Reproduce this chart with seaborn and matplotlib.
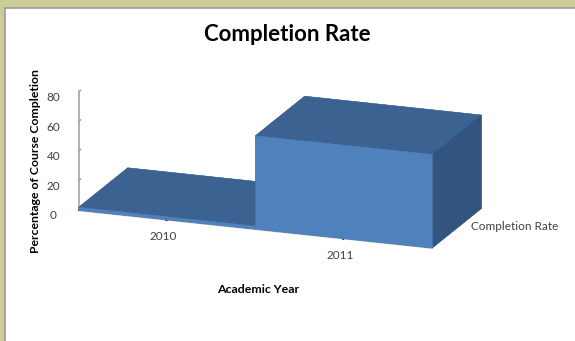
import numpy as np
import matplotlib
matplotlib.use("Agg")
import matplotlib.pyplot as plt
import seaborn as sns
from matplotlib.patches import Rectangle

# data
years = ["2010", "2011"]
completion = [2, 63]
series_name = "Completion Rate"
z_ticks = [0, 20, 40, 60, 80]

sns.set_theme(style="white")
plt.rcParams['font.family'] = ['Lato', 'DejaVu Sans']

face_front = "#4F81BD"
face_top = "#3C6291"
face_side = "#32547E"
text_col = "#404040"
axis_col = "#A8A8A8"

fig = plt.figure(figsize=(5.75, 3.41), dpi=100)
fig.patch.set_facecolor("#CCCC99")
fig.patches.append(Rectangle((0.008, -0.02), 1.0, 0.998, transform=fig.transFigure,
                             facecolor="white", edgecolor="#999999", lw=1.2, zorder=-5))

ax = fig.add_axes([-0.02, 0.108, 1.0, 0.88], projection="3d")
ax.set_facecolor("none")

n = len(years)
x = np.arange(n)
# bar3d face order: -z, +z, -y, +y, -x, +x
colors = []
for _ in range(n):
    colors += [face_front, face_top, face_front, face_front, face_side, face_side]
bars = ax.bar3d(x, np.zeros(n), np.zeros(n), 1, 1, completion, color=colors, shade=False,
                edgecolor=colors, linewidth=0.3)
bars.set_clip_on(False)

ax.set_xlim(0, n)
ax.set_ylim(0, 1)
ax.set_zlim(0, 80)
ax.set_proj_type('ortho')
ax.view_init(elev=17, azim=-70)
ax.set_box_aspect((3.4, 1.3, 1.12), zoom=1.364)

ax.set_xticks(x + 0.5)
ax.set_xticklabels(years, fontsize=8.5, color=text_col)
ax.set_yticks([])
ax.set_zticks(z_ticks)
ax.set_zticklabels([str(v) for v in z_ticks], fontsize=8.5, color=text_col)
ax.zaxis.set_ticks_position('lower')
ax.tick_params(axis='z', pad=-1)
ax.tick_params(axis='x', pad=0)
ax.zaxis._axinfo['tick']['inward_factor'] = 0.0
ax.zaxis._axinfo['tick']['outward_factor'] = 0.5
for tk in ax.zaxis.get_major_ticks():
    tk.tick1line.set_color(axis_col)
for tk in ax.xaxis.get_major_ticks():
    tk.tick1line.set_visible(False)
ax.grid(False)
for axis in (ax.xaxis, ax.yaxis, ax.zaxis):
    axis.pane.fill = False
    axis.pane.set_edgecolor("none")
ax.xaxis.line.set_color(axis_col)
ax.yaxis.line.set_color("none")
ax.zaxis.line.set_color(axis_col)
t = ax.text(n + 0.08, 0.5, 0, series_name, fontsize=8.5, color=text_col)
t.set_clip_on(False)

fig.text(0.5, 0.90, "Completion Rate", ha="center", va="center", fontsize=16, fontweight="bold", color="black")
fig.text(0.061, 0.528, "Percentage of Course Completion", rotation=90, ha="center", va="center",
         fontsize=8.8, fontweight="bold", color="black")
fig.text(0.449, 0.152, "Academic Year", ha="center", va="center", fontsize=8.9, fontweight="bold", color="black")

fig.savefig("out.png", dpi=100, facecolor=fig.get_facecolor())
